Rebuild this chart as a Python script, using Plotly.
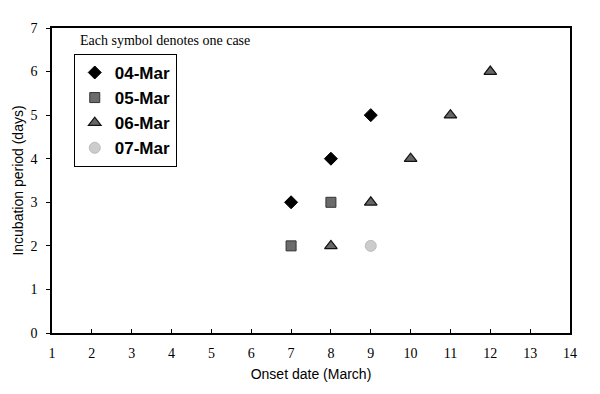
import plotly.graph_objects as go

# Data: onset date (March) and incubation period (days), grouped by exposure date
series_names = ["04-Mar", "05-Mar", "06-Mar", "07-Mar"]
onset_04 = [7, 8, 9]
incub_04 = [3, 4, 5]
onset_05 = [7, 8]
incub_05 = [2, 3]
onset_06 = [8, 9, 10, 11, 12]
incub_06 = [2, 3, 4, 5, 6]
onset_07 = [9]
incub_07 = [2]

x_ticks = list(range(1, 15))
y_ticks = list(range(0, 8))

styles = [
    dict(symbol="diamond", size=10, color="#000000", line=dict(color="#000000", width=1)),
    dict(symbol="square", size=10, color="#6b6b6b", line=dict(color="#333333", width=1)),
    dict(symbol="triangle-up", size=11, color="#666666", line=dict(color="#111111", width=1.2)),
    dict(symbol="circle", size=11, color="#cccccc", line=dict(color="#bbbbbb", width=1)),
]
xs = [onset_04, onset_05, onset_06, onset_07]
ys = [incub_04, incub_05, incub_06, incub_07]

fig = go.Figure()
for name, x, y, st in zip(series_names, xs, ys, styles):
    fig.add_trace(go.Scatter(x=x, y=y, mode="markers", name="<b>" + name + "</b>", marker=st))

fig.update_layout(
    width=592, height=386,
    margin=dict(l=44, r=30, t=20, b=61, autoexpand=False),
    paper_bgcolor="white", plot_bgcolor="white",
    showlegend=True,
    legend=dict(
        x=0.042, y=0.915, xanchor="left", yanchor="top",
        bordercolor="black", borderwidth=1, bgcolor="white",
        font=dict(family="Arial, Liberation Sans, sans-serif", size=17, color="black"),
        itemwidth=30,
    ),
    xaxis=dict(
        range=[1, 14], tickvals=x_ticks, ticktext=[str(v) for v in x_ticks],
        showline=True, linecolor="black", linewidth=1.5, mirror=True,
        ticks="inside", ticklen=4, tickcolor="black", showgrid=False, zeroline=False,
        automargin=False, ticklabelstandoff=6,
        tickfont=dict(family="Liberation Serif, Times New Roman, serif", size=14, color="black"),
        title=dict(text="Onset date (March)", standoff=10,
                   font=dict(family="Liberation Sans Narrow, Arial, sans-serif", size=14, color="black")),
    ),
    yaxis=dict(
        range=[0, 7], tickvals=y_ticks,
        showline=True, linecolor="black", linewidth=1.5, mirror=True,
        ticks="outside", ticklen=4, tickcolor="black", showgrid=False, zeroline=False,
        automargin=False, ticklabelstandoff=6,
        tickfont=dict(family="Liberation Serif, Times New Roman, serif", size=14, color="black"),
        title=dict(text="Incubation period (days)", standoff=4,
                   font=dict(family="Liberation Sans Narrow, Arial, sans-serif", size=14, color="black")),
    ),
    annotations=[dict(
        text="Each symbol denotes one case", x=0.05, y=0.96, xref="paper", yref="paper",
        xanchor="left", yanchor="middle", showarrow=False,
        font=dict(family="Liberation Serif, Times New Roman, serif", size=14, color="black"),
    )],
)

fig.write_html("out.html")
